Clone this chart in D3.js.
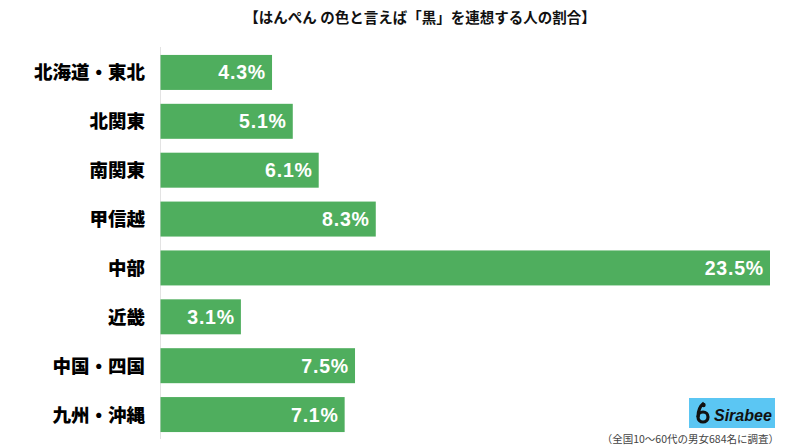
<!DOCTYPE html>
<html><head><meta charset="utf-8">
<script src="https://cdn.jsdelivr.net/npm/d3@7"></script>
<style>
html,body{margin:0;padding:0;background:#fff;}
svg{display:block;}
</style></head>
<body>
<svg id="chart" width="800" height="446"></svg>
<script>
const title = "【はんぺん の色と言えば「黒」を連想する人の割合】";
const categories = ["北海道・東北","北関東","南関東","甲信越","中部","近畿","中国・四国","九州・沖縄"];
const values = [4.3, 5.1, 6.1, 8.3, 23.5, 3.1, 7.5, 7.1];
const footnote = "（全国10～60代の男女684名に調査）";
const brand = "Sirabee";

const svg = d3.select("#chart");
const x0 = 160.5;
const x = d3.scaleLinear().domain([0, 23.5]).range([x0, 770]);
const y = d3.scaleBand().domain(categories).range([48, 439]).paddingInner(0.284).paddingOuter(0.142);

svg.append("text").attr("x", 420).attr("y", 23).attr("text-anchor", "middle")
  .attr("font-family", "'Noto Sans CJK JP', sans-serif").attr("font-weight", 700)
  .attr("font-size", 14.5).attr("fill", "#111").text(title);

svg.append("line").attr("x1", x0).attr("x2", x0).attr("y1", 47).attr("y2", 439)
  .attr("stroke", "#e3e3e3").attr("stroke-width", 1);

svg.selectAll("rect.bar").data(values).join("rect").attr("class", "bar")
  .attr("x", x0).attr("y", (d, i) => y(categories[i]))
  .attr("width", d => x(d) - x0).attr("height", y.bandwidth())
  .attr("fill", "#4fae5e");

svg.selectAll("text.val").data(values).join("text").attr("class", "val")
  .attr("x", d => x(d) - 6).attr("y", (d, i) => y(categories[i]) + y.bandwidth() / 2 + 7)
  .attr("text-anchor", "end").attr("font-family", "'Liberation Sans', Arial, sans-serif")
  .attr("font-weight", 700).attr("font-size", 19.5).attr("letter-spacing", 0.8).attr("fill", "#fff")
  .text(d => d.toFixed(1) + "%");

svg.selectAll("text.cat").data(categories).join("text").attr("class", "cat")
  .attr("x", 145).attr("y", d => y(d) + y.bandwidth() / 2 + 7)
  .attr("text-anchor", "end").attr("font-family", "'Noto Sans CJK JP', sans-serif")
  .attr("font-weight", 900).attr("font-size", 18.5).attr("fill", "#000")
  .text(d => d);

// logo
const lg = svg.append("g");
lg.append("rect").attr("x", 689).attr("y", 398).attr("width", 86).attr("height", 30).attr("fill", "#5bc6f3");
lg.append("circle").attr("cx", 703).attr("cy", 417).attr("r", 5).attr("fill", "none").attr("stroke", "#111").attr("stroke-width", 3.2);
lg.append("path").attr("d", "M698,417 C698,410 700,406 704,403").attr("fill", "none").attr("stroke", "#111").attr("stroke-width", 3.2);
lg.append("circle").attr("cx", 703.5).attr("cy", 405).attr("r", 2.2).attr("fill", "#111");
lg.append("text").attr("x", 714).attr("y", 421).attr("font-family", "'Liberation Sans', Arial, sans-serif")
  .attr("font-weight", 700).attr("font-style", "italic").attr("font-size", 16).attr("fill", "#111").text(brand);

svg.append("text").attr("x", 779).attr("y", 443).attr("text-anchor", "end")
  .attr("font-family", "'Noto Sans CJK JP', sans-serif").attr("font-size", 10.5).attr("fill", "#444")
  .text(footnote);
</script>
</body></html>
